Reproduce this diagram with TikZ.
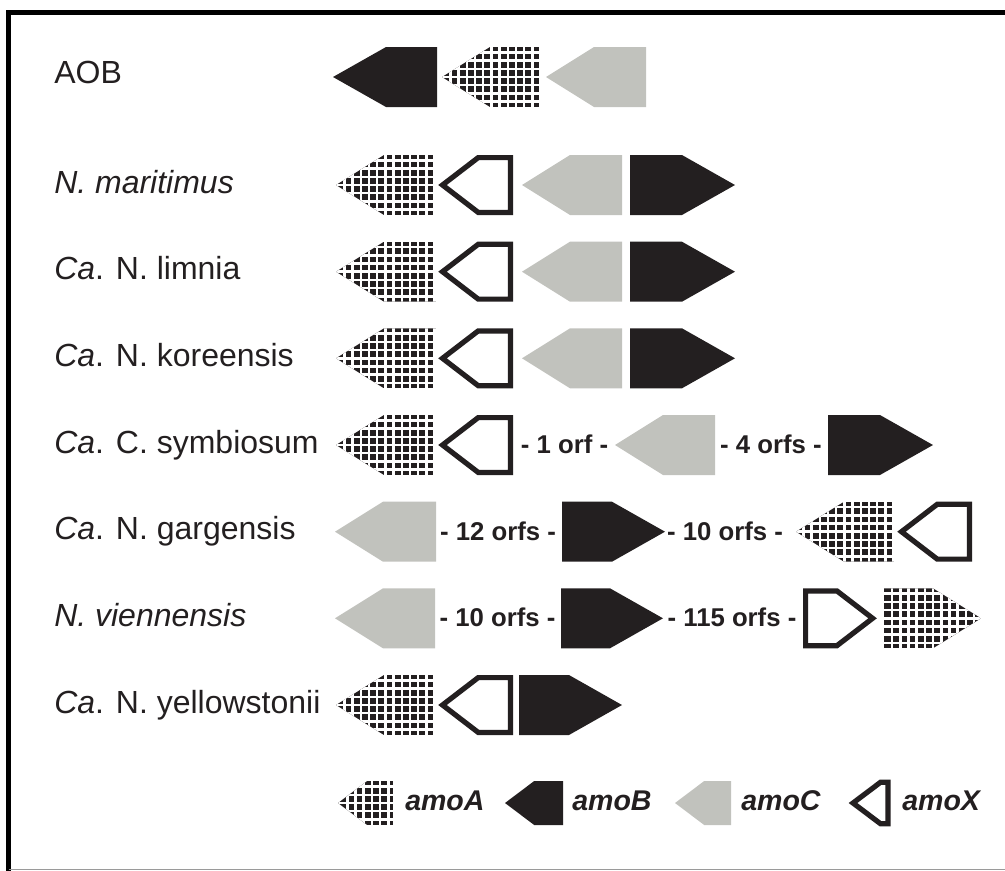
\documentclass[tikz,border=0pt]{standalone}
\usepackage{fontspec}
\setmainfont{Liberation Sans}
\usepackage{xcolor}
\usepackage{tikz}
\usetikzlibrary{shapes.symbols}
\definecolor{geneblack}{HTML}{231F20}
\definecolor{genegray}{HTML}{C1C2BD}
\definecolor{framegray}{HTML}{9A9A9A}

\begin{document}
\begin{tikzpicture}[x=0.75bp,y=0.75bp,
 gene/.style={shape=signal,signal from=nowhere,inner sep=0pt,outer sep=0pt,minimum height=45bp},
 tol/.style={signal to=west,anchor=west},
 tor/.style={signal to=east,anchor=west},
 wd/.style={minimum width=#1*0.75bp},
 amoB/.style={gene,fill=geneblack,signal pointer angle=59},
 amoC/.style={gene,fill=genegray,signal pointer angle=64},
 amoX/.style={gene,draw=geneblack,line width=3.9bp,fill=white,signal pointer angle=75,minimum height=41.1bp},
 amoA/.style={gene,signal pointer angle=64,
  path picture={\fill[geneblack] (path picture bounding box.south west) rectangle (path picture bounding box.north east);
   \draw[white,line width=1.9bp] (path picture bounding box.south west) grid[step=8.2] (path picture bounding box.north east);}},
 keysize/.style={minimum height=33bp,signal pointer angle=74},
 lbl/.style={anchor=base west,inner sep=0pt,text=geneblack,font=\fontsize{24bp}{28bp}\selectfont},
 orf/.style={anchor=base,inner sep=0pt,text=geneblack,font=\fontsize{19.3bp}{22bp}\selectfont\bfseries},
 legendtxt/.style={anchor=base west,inner sep=0pt,text=geneblack,font=\fontsize{21.4bp}{25bp}\selectfont\bfseries\itshape}]
\useasboundingbox (0,0) rectangle (1005,-871);
% frame
\draw[line width=3.6bp] (8.5,-871) -- (8.5,-12.5) -- (1005,-12.5);
\draw[framegray,line width=1.2bp] (8.5,-869.5) -- (1005,-869.5);

% organism names
\node[lbl] (n-aob) at (54,-83) {AOB};
\node[lbl] (n-mar) at (54,-193) {\textit{N. maritimus}};
\node[lbl] (n-lim) at (54,-279.7) {\textit{Ca}. N. limnia};
\node[lbl] (n-kor) at (54,-366.3) {\textit{Ca}. N. koreensis};
\node[lbl] (n-sym) at (54,-453) {\textit{Ca}. C. symbiosum};
\node[lbl] (n-gar) at (54,-539.7) {\textit{Ca}. N. gargensis};
\node[lbl] (n-vie) at (54,-626.3) {\textit{N. viennensis}};
\node[lbl] (n-yel) at (54,-713) {\textit{Ca}. N. yellowstonii};

% AOB
\node[amoB,tol,wd=104] (aob-B) at (333,-77) {};
\node[amoA,tol,wd=100] (aob-A) at (442,-77) {};
\node[amoC,tol,wd=100] (aob-C) at (546,-77) {};

% same order in three genomes
\foreach \y/\n in {185/mar,271.7/lim,358.3/kor}{
 \node[amoA,tol,wd=100] (\n-A) at (336,-\y) {};
 \node[amoX,tol,wd=68] (\n-X) at (442.5,-\y) {};
 \node[amoC,tol,wd=100] (\n-C) at (522,-\y) {};
 \node[amoB,tor,wd=105] (\n-B) at (630,-\y) {};
}

% symbiosum
\node[amoA,tol,wd=100] (sym-A) at (336,-445) {};
\node[amoX,tol,wd=68] (sym-X) at (442.5,-445) {};
\node[orf] (sym-o1) at (564.5,-453.5) {- 1 orf -};
\node[amoC,tol,wd=100] (sym-C) at (615,-445) {};
\node[orf] (sym-o2) at (771,-453.5) {- 4 orfs -};
\node[amoB,tor,wd=105] (sym-B) at (828,-445) {};

% gargensis
\node[amoC,tol,wd=101] (gar-C) at (335,-531.7) {};
\node[orf] (gar-o1) at (498,-540.2) {- 12 orfs -};
\node[amoB,tor,wd=103] (gar-B) at (562,-531.7) {};
\node[orf] (gar-o2) at (725,-540.2) {- 10 orfs -};
\node[amoA,tol,wd=98] (gar-A) at (796,-531.7) {};
\node[amoX,tol,wd=68] (gar-X) at (901.5,-531.7) {};

% viennensis
\node[amoC,tol,wd=100] (vie-C) at (335,-618.3) {};
\node[orf] (vie-o1) at (497.5,-626.8) {- 10 orfs -};
\node[amoB,tor,wd=102] (vie-B) at (561,-618.3) {};
\node[orf] (vie-o2) at (732,-626.8) {- 115 orfs -};
\node[amoX,tor,wd=67] (vie-X) at (805.6,-618.3) {};
\node[amoA,tor,wd=97] (vie-A) at (884,-618.3) {};

% yellowstonii
\node[amoA,tol,wd=100] (yel-A) at (336,-705) {};
\node[amoX,tol,wd=68] (yel-X) at (442.5,-705) {};
\node[amoB,tor,wd=103] (yel-B) at (519,-705) {};

% legend
\node[amoA,keysize,tol,wd=55] (key-A) at (338,-803) {};
\node[legendtxt] (key-At) at (405,-810) {amoA};
\node[amoB,keysize,tol,wd=58] (key-B) at (505,-803) {};
\node[legendtxt] (key-Bt) at (572,-810) {amoB};
\node[amoC,keysize,tol,wd=56] (key-C) at (675,-803) {};
\node[legendtxt] (key-Ct) at (741,-810) {amoC};
\node[amoX,keysize,tol,wd=35,minimum height=31bp] (key-X) at (853,-803) {};
\node[legendtxt] (key-Xt) at (902,-810) {amoX};
\end{tikzpicture}
\end{document}
